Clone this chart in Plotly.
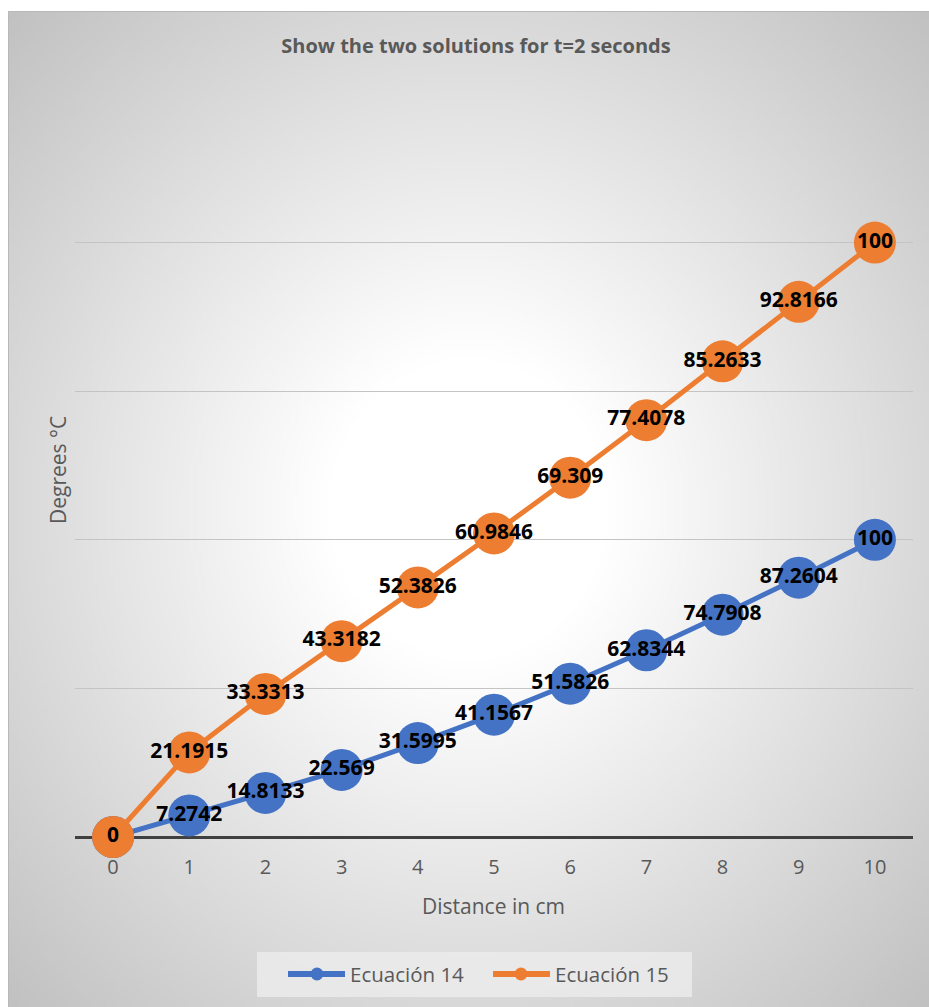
import math, zlib, struct, base64
import plotly.graph_objects as go

# ---------------- data ----------------
distance = [0, 1, 2, 3, 4, 5, 6, 7, 8, 9, 10]
ecuacion_14 = [0, 7.2742, 14.8133, 22.569, 31.5995, 41.1567, 51.5826, 62.8344, 74.7908, 87.2604, 100]
ecuacion_15 = [0, 21.1915, 33.3313, 43.3182, 52.3826, 60.9846, 69.309, 77.4078, 85.2633, 92.8166, 100]
series_names = ["Ecuación 14", "Ecuación 15"]
title_text = "Show the two solutions for t=2 seconds"
x_title = "Distance in cm"
y_title = "Degrees °C"

BLUE = "#4472C4"
ORANGE = "#ED7D31"
FONT = "Open Sans"
GREY_TXT = "#595959"


# ---------------- radial gradient background (PNG data URI) ----------------
def gradient_png(w, h):
    raw = bytearray()
    for j in range(h):
        raw.append(0)
        ny = (j + 0.5) / h * 2 - 1
        for i in range(w):
            nx = (i + 0.5) / w * 2 - 1
            r = math.sqrt(nx * nx + ny * ny)
            c = int(round(255 - 56 * max(0.0, r - 0.3)))
            c = max(0, min(255, c))
            raw += bytes((c, c, c))

    def chunk(tag, data):
        return struct.pack(">I", len(data)) + tag + data + struct.pack(">I", zlib.crc32(tag + data) & 0xffffffff)

    png = b"\x89PNG\r\n\x1a\n"
    png += chunk(b"IHDR", struct.pack(">IIBBBBB", w, h, 8, 2, 0, 0, 0))
    png += chunk(b"IDAT", zlib.compress(bytes(raw), 9))
    png += chunk(b"IEND", b"")
    return "data:image/png;base64," + base64.b64encode(png).decode()


bg_uri = gradient_png(240, 260)

# plot-area geometry in pixels
W, H = 929, 1007
L, R, T, B = 75, 16, 94, 170
PW, PH = W - L - R, H - T - B


def px_x(p):
    return (p - L) / PW


def px_y(p):
    return (H - B - p) / PH


fig = go.Figure()

for vals, nm, col in [(ecuacion_14, series_names[0], BLUE), (ecuacion_15, series_names[1], ORANGE)]:
    fig.add_trace(go.Scatter(
        x=distance, y=vals, name=nm, stackgroup="s", fill="none",
        mode="lines+markers+text", text=[str(v) for v in vals], textposition="middle center",
        line=dict(color=col, width=5), marker=dict(color=col, size=42),
        textfont=dict(family=FONT, size=21, color="black", weight="bold"),
        cliponaxis=False, showlegend=False, hoverinfo="skip",
    ))

# ---------------- manual legend (Excel style) ----------------
legend_items = [  # (line x0, line x1, marker x, text x)
    (288, 345, 317, 348),
    (493, 550, 521, 553),
]
LEG_Y = 974
shapes = [
    dict(type="line", xref="paper", yref="paper", x0=px_x(8.5), x1=px_x(W), y0=px_y(11.5), y1=px_y(11.5),
         line=dict(color="#b8b8b8", width=1), layer="below"),
    dict(type="line", xref="paper", yref="paper", x0=px_x(8.5), x1=px_x(8.5), y0=px_y(11.5), y1=px_y(H),
         line=dict(color="#b8b8b8", width=1), layer="below"),
    dict(type="rect", xref="paper", yref="paper", x0=px_x(257), x1=px_x(692), y0=px_y(997), y1=px_y(952),
         fillcolor="rgba(236,236,236,0.8)", line=dict(width=0), layer="below"),
]
annotations = [
    dict(text=x_title, xref="paper", yref="paper", x=px_x(493), y=px_y(906), showarrow=False,
         xanchor="center", yanchor="middle", font=dict(family=FONT, size=21, color=GREY_TXT)),
    dict(text=y_title, xref="paper", yref="paper", x=px_x(58), y=px_y(470), showarrow=False,
         xanchor="center", yanchor="middle", textangle=-90,
         font=dict(family=FONT, size=21, color=GREY_TXT)),
]
for (lx0, lx1, mx, tx), nm, col in zip(legend_items, series_names, [BLUE, ORANGE]):
    shapes.append(dict(type="line", xref="paper", yref="paper", x0=px_x(lx0), x1=px_x(lx1),
                       y0=px_y(LEG_Y), y1=px_y(LEG_Y), line=dict(color=col, width=6), layer="above"))
    shapes.append(dict(type="circle", xref="paper", yref="paper", x0=px_x(mx - 6.5), x1=px_x(mx + 6.5),
                       y0=px_y(LEG_Y + 6.5), y1=px_y(LEG_Y - 6.5), fillcolor=col,
                       line=dict(width=0), layer="above"))
    annotations.append(dict(text=nm, xref="paper", yref="paper", x=px_x(tx), y=px_y(LEG_Y), showarrow=False,
                            xanchor="left", yanchor="middle", font=dict(family=FONT, size=20.5, color=GREY_TXT)))

fig.update_layout(
    width=W, height=H,
    margin=dict(l=L, r=R, t=T, b=B),
    paper_bgcolor="white", plot_bgcolor="rgba(0,0,0,0)",
    font=dict(family=FONT, color=GREY_TXT, size=20),
    showlegend=False,
    title=dict(text=title_text, x=px_x(476) * PW / W + L / W, xanchor="center", y=1 - 46 / H, yanchor="middle",
               font=dict(family=FONT, size=20, color=GREY_TXT, weight="bold")),
    xaxis=dict(range=[-0.5, 10.5], tickmode="array", tickvals=distance,
               ticktext=[str(v) for v in distance], showgrid=False, zeroline=False,
               showline=False, ticks="", ticklabelstandoff=16,
               tickfont=dict(family=FONT, size=20, color=GREY_TXT)),
    yaxis=dict(range=[0, 250], dtick=50, showticklabels=False, showgrid=True,
               gridcolor="#c4c4c4", gridwidth=1, zeroline=True, zerolinecolor="#404040",
               zerolinewidth=3, showline=False, ticks=""),
    images=[dict(source=bg_uri, xref="paper", yref="paper", x=px_x(8), y=px_y(11),
                 sizex=(W - 8) / PW, sizey=(H - 11) / PH, sizing="stretch",
                 xanchor="left", yanchor="top", layer="below")],
    shapes=shapes,
    annotations=annotations,
)

fig.write_html("out.html")
